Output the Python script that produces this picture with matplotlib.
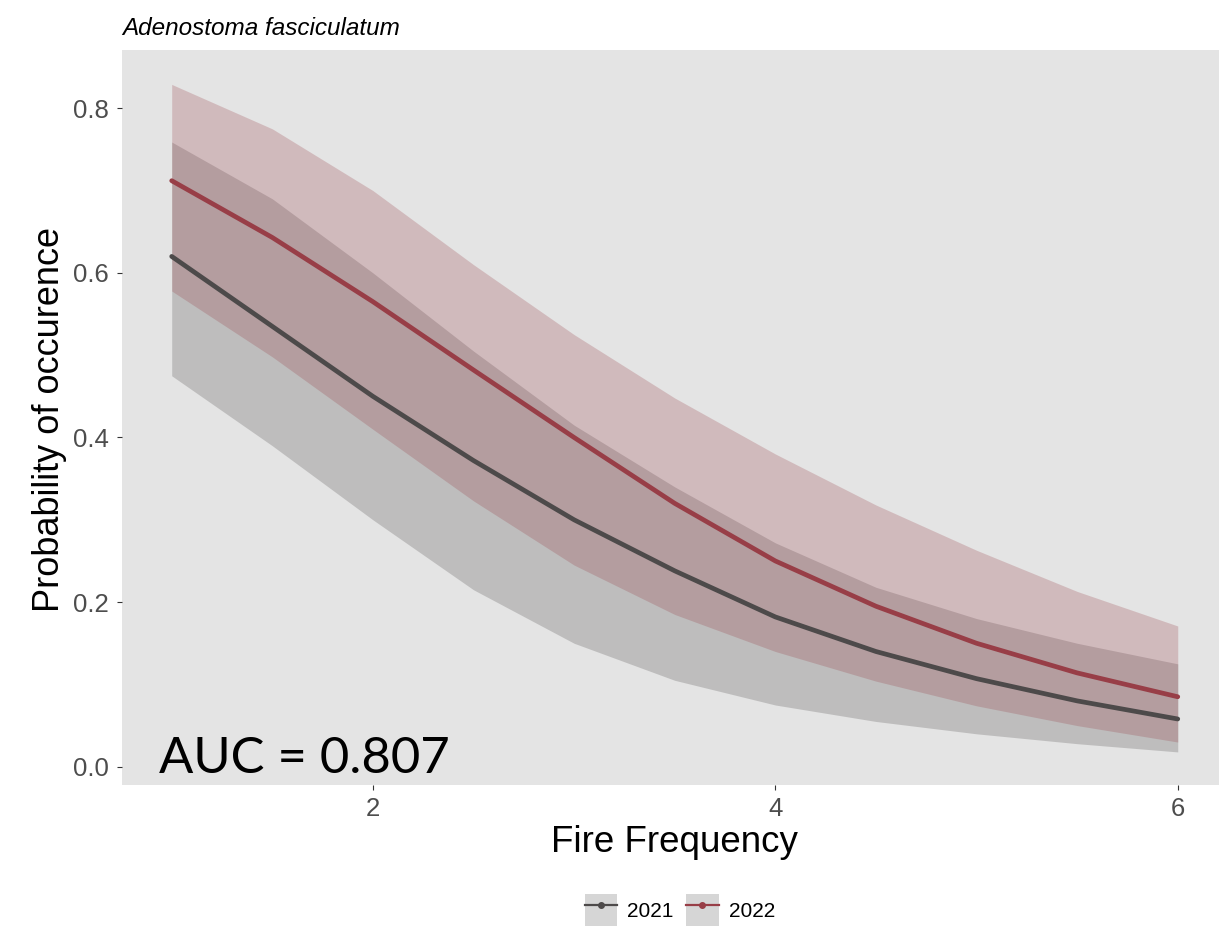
import matplotlib

matplotlib.use("Agg")
import matplotlib.pyplot as plt
from matplotlib.legend_handler import HandlerTuple
from matplotlib.lines import Line2D
from matplotlib.patches import Patch

plt.rcParams["font.family"] = ["Liberation Sans", "DejaVu Sans"]

# predicted probability of occurrence vs. fire frequency, per survey year
fire_freq = [1.0, 1.5, 2.0, 2.5, 3.0, 3.5, 4.0, 4.5, 5.0, 5.5, 6.0]

fit_2021 = [0.620, 0.535, 0.450, 0.372, 0.300, 0.238, 0.182, 0.140, 0.107, 0.080, 0.058]
low_2021 = [0.475, 0.390, 0.300, 0.215, 0.150, 0.105, 0.075, 0.055, 0.040, 0.028, 0.018]
high_2021 = [0.759, 0.690, 0.600, 0.505, 0.415, 0.340, 0.272, 0.218, 0.180, 0.150, 0.125]

fit_2022 = [0.712, 0.643, 0.565, 0.482, 0.400, 0.320, 0.250, 0.195, 0.150, 0.114, 0.085]
low_2022 = [0.578, 0.498, 0.410, 0.323, 0.245, 0.185, 0.140, 0.104, 0.074, 0.050, 0.030]
high_2022 = [0.829, 0.775, 0.700, 0.610, 0.525, 0.448, 0.380, 0.318, 0.263, 0.213, 0.171]

years = ["2021", "2022"]
year_colors = {"2021": "#4d4a4a", "2022": "#983e47"}

x_ticks = [2, 4, 6]
y_ticks = [0.0, 0.2, 0.4, 0.6, 0.8]

W, H = 1219, 940
fig = plt.figure(figsize=(W / 100, H / 100), dpi=100)
ax_left, ax_top, ax_bottom = 122, 49.5, 785
ax = fig.add_axes([ax_left / W, 1 - ax_bottom / H, 1 - ax_left / W,
                   (ax_bottom - ax_top) / H])
ax.set_facecolor("#e4e4e4")

series = {
    "2021": (fit_2021, low_2021, high_2021),
    "2022": (fit_2022, low_2022, high_2022),
}
for year in years:
    fit, low, high = series[year]
    ax.fill_between(fire_freq, low, high, color=year_colors[year],
                    alpha=0.25, linewidth=0)
for year in years:
    fit, low, high = series[year]
    ax.plot(fire_freq, fit, color=year_colors[year], linewidth=3.4,
            solid_capstyle="round", solid_joinstyle="round")

ax.set_xlim(0.753, 6.205)
ax.set_ylim(-0.0222, 0.8714)
ax.set_xticks(x_ticks)
ax.set_xticklabels([str(t) for t in x_ticks])
ax.set_yticks(y_ticks)
ax.set_yticklabels([f"{t:.1f}" for t in y_ticks])
ax.tick_params(axis="both", length=3.5, width=0.8, color="#333333",
               labelcolor="#4d4d4d", labelsize=18.5)
ax.tick_params(axis="x", pad=5)
ax.tick_params(axis="y", pad=6)
for side in ax.spines.values():
    side.set_visible(False)

# AUC annotation, positioned in panel pixels
panel_w, panel_h = W - ax_left, ax_bottom - ax_top
ax.text((159 - ax_left) / panel_w, (ax_bottom - 773) / panel_h, "AUC = 0.807",
        transform=ax.transAxes, fontsize=36.5, family=["Lato", "DejaVu Sans"],
        color="black", ha="left", va="baseline")

fig.text(ax_left / W, 1 - 35 / H, "Adenostoma fasciculatum", fontsize=17.5,
         style="italic", ha="left", va="baseline")
fig.text(674 / W, 1 - 843 / H, "Fire Frequency", fontsize=26.5,
         ha="center", va="center")
fig.text(50 / W, 1 - 420 / H, "Probability of occurence", fontsize=26,
         rotation=90, ha="center", va="center")

handles = []
for year in years:
    key = Patch(facecolor="#d6d6d6", edgecolor="none")
    mark = Line2D([], [], color=year_colors[year], linewidth=1.6,
                  marker="o", markersize=4)
    handles.append((key, mark))
fig.legend(handles, years,
           handler_map={tuple: HandlerTuple(ndivide=1, pad=0)},
           loc="center", bbox_to_anchor=(680 / W, 1 - 910 / H), ncol=2,
           frameon=False, fontsize=15, handlelength=1.55, handleheight=1.98,
           handletextpad=0.5, columnspacing=0.6)

fig.savefig("out.png", dpi=100)
